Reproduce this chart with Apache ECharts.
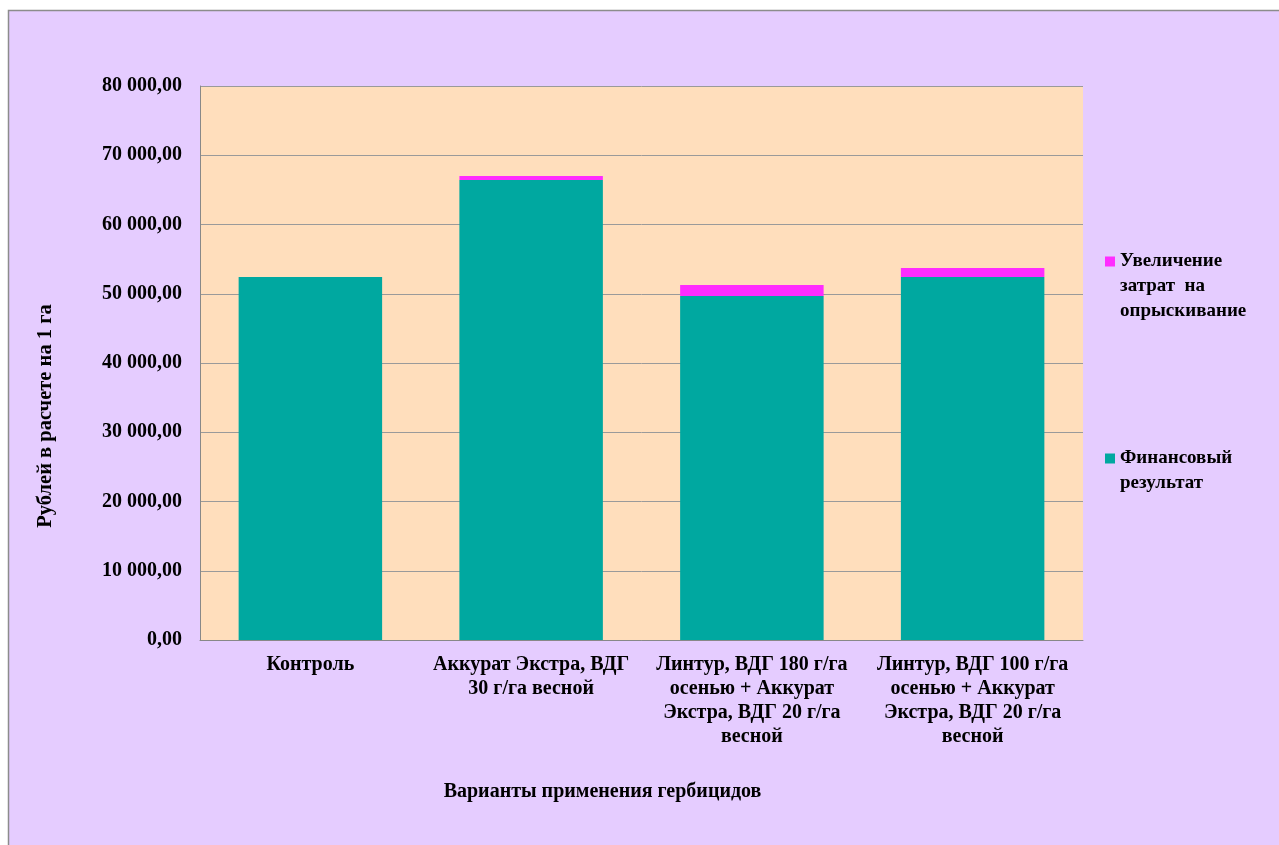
<!DOCTYPE html>
<html>
<head>
<meta charset="utf-8">
<script src="https://cdn.jsdelivr.net/npm/echarts@6/dist/echarts.min.js"></script>
<style>
  html, body { margin: 0; padding: 0; background: #fff; }
  #chart { width: 1279px; height: 845px; }
</style>
</head>
<body>
<div id="chart"></div>
<script>
const categories = [
  'Контроль',
  'Аккурат Экстра, ВДГ\n30 г/га весной',
  'Линтур, ВДГ 180 г/га\nосенью + Аккурат\nЭкстра, ВДГ 20 г/га\nвесной',
  'Линтур, ВДГ 100 г/га\nосенью + Аккурат\nЭкстра, ВДГ 20 г/га\nвесной'
]
const finResult = [52420, 66430, 49680, 52420]
const sprayCost = [0, 580, 1590, 1300]
const finName = 'Финансовый результат'
const sprayName = 'Увеличение затрат на опрыскивание'
const finColor = '#00A8A0'
const sprayColor = '#FF2CFF'

const fontBase = { fontFamily: 'Liberation Serif', fontWeight: 'bold', color: '#000' }

// 80000 -> "80 000,00"
const fmt = v => String(Math.round(v)).replace(/\B(?=(\d{3})+(?!\d))/g, ' ') + ',00'

// legend text with the square on the first line only
const legendRich = color => ({
  sq: { width: 10, height: 10, backgroundColor: color },
  g: { width: 5 },
  sp: { width: 15 },
  t: { ...fontBase, fontSize: 19, lineHeight: 25 }
})

const chart = echarts.init(document.getElementById('chart'))
chart.setOption({
  animation: false,
  backgroundColor: '#fff',
  graphic: [{
    type: 'rect',
    z: -10,
    shape: { x: 8.5, y: 10.5, width: 1290, height: 850 },
    style: { fill: '#E5CCFF', stroke: '#8c8c8c', lineWidth: 1.5 }
  }],
  grid: {
    left: 200, right: 196, top: 86, bottom: 205,
    show: true, backgroundColor: '#FFDEBC', borderWidth: 0
  },
  legend: [{
    left: 1095, top: 247,
    itemWidth: 0, itemHeight: 0,
    data: [sprayName],
    formatter: () => '{sq|}{g|}{t|Увеличение}\n{sp|}{t|затрат  на}\n{sp|}{t|опрыскивание}',
    textStyle: { rich: legendRich(sprayColor) }
  }, {
    left: 1095, top: 444,
    itemWidth: 0, itemHeight: 0,
    data: [finName],
    formatter: () => '{sq|}{g|}{t|Финансовый}\n{sp|}{t|результат}',
    textStyle: { rich: legendRich(finColor) }
  }],
  xAxis: {
    type: 'category',
    data: categories,
    name: 'Варианты применения гербицидов',
    nameLocation: 'middle',
    nameGap: 142,
    nameTextStyle: { ...fontBase, fontSize: 20, padding: [0, 78, 0, 0] },
    axisLine: { lineStyle: { color: '#888', width: 1 } },
    axisTick: { show: false },
    axisLabel: { ...fontBase, fontSize: 20, lineHeight: 24, margin: 13, interval: 0 }
  },
  yAxis: {
    type: 'value',
    min: 0, max: 80000, interval: 10000,
    name: 'Рублей в расчете на 1 га',
    nameLocation: 'middle',
    nameGap: 144,
    nameTextStyle: { ...fontBase, fontSize: 20.5, padding: [0, 106, 0, 0] },
    axisLine: { show: true, lineStyle: { color: '#888', width: 1 } },
    axisTick: { show: false },
    splitLine: { lineStyle: { color: '#9a9a9a', width: 1 } },
    axisLabel: { ...fontBase, fontSize: 20, margin: 18, formatter: fmt }
  },
  series: [{
    name: finName,
    type: 'bar',
    stack: 'total',
    data: finResult,
    barWidth: '65%',
    itemStyle: { color: finColor }
  }, {
    name: sprayName,
    type: 'bar',
    stack: 'total',
    data: sprayCost,
    itemStyle: { color: sprayColor }
  }]
})
</script>
</body>
</html>
